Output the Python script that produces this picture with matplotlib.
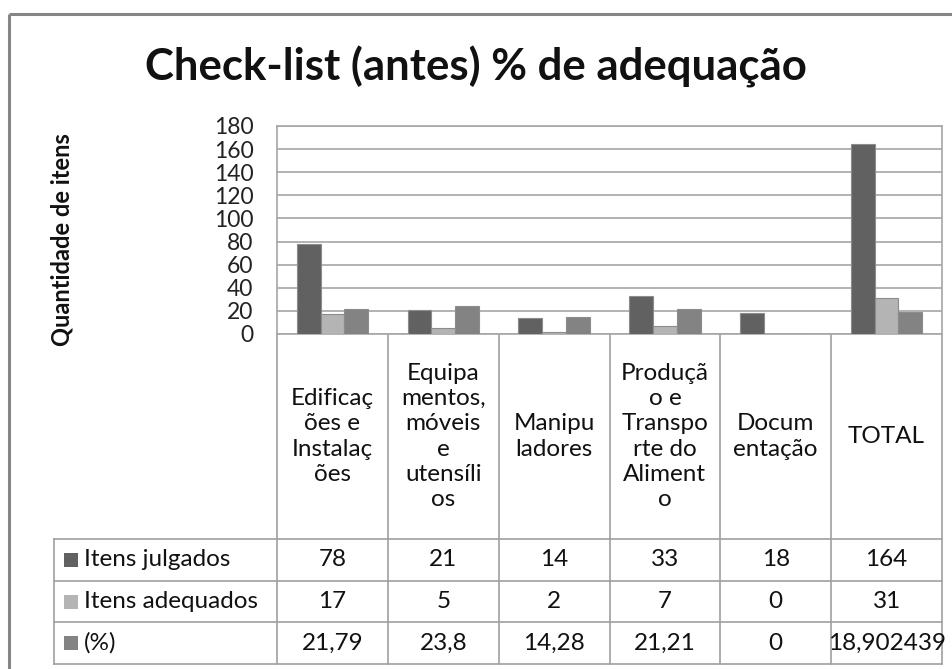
import numpy as np
import matplotlib.pyplot as plt
from matplotlib.patches import Rectangle

plt.rcParams['font.family'] = ['Lato', 'DejaVu Sans']

# data
categories = ["Edificaç\nões e\nInstalaç\nões",
              "Equipa\nmentos,\nmóveis\ne\nutensíli\nos",
              "Manipu\nladores",
              "Produçã\no e\nTranspo\nrte do\nAliment\no",
              "Docum\nentação",
              "TOTAL"]
series_names = ["Itens julgados", "Itens adequados", "(%)"]
itens_julgados = [78, 21, 14, 33, 18, 164]
itens_adequados = [17, 5, 2, 7, 0, 31]
percentual = [21.79, 23.8, 14.28, 21.21, 0, 18.902439]
yticks = [0, 20, 40, 60, 80, 100, 120, 140, 160, 180]

series = [itens_julgados, itens_adequados, percentual]
colors = ['#616161', '#b4b4b4', '#838383']
grid_c = '#a6a6a6'

W, H = 952, 669
fig = plt.figure(figsize=(W / 100, H / 100), dpi=100)

# overlay in pixel coordinates for border + data table
ov = fig.add_axes([0, 0, 1, 1])
ov.set_xlim(0, W)
ov.set_ylim(H, 0)
ov.axis('off')
ov.set_facecolor('none')

# outer chart border
ov.plot([9, 9], [14, H + 5], color='#868686', lw=2.2, solid_capstyle='butt')
ov.plot([9, W + 5], [14, 14], color='#868686', lw=2.2, solid_capstyle='butt')

# plot area
left, right, top, bottom = 277, 942, 126, 334
ax = fig.add_axes([left / W, 1 - bottom / H, (right - left) / W, (bottom - top) / H])
ax.set_facecolor('none')
n = len(categories)
x = np.arange(n)
bw = 0.215
for k, (vals, c) in enumerate(zip(series, colors)):
    ax.bar(x + 0.5 + (k - 1) * bw, vals, width=bw, color=c, edgecolor='#8c8c8c',
           linewidth=0.8, zorder=3)
ax.set_xlim(0, n)
ax.set_ylim(0, 180)
ax.set_yticks(yticks)
ax.set_yticklabels([str(t) for t in yticks], fontsize=16.5, color='#222222')
ax.set_xticks([])
ax.tick_params(axis='y', length=0, pad=17)
ax.grid(axis='y', color=grid_c, lw=1.2, zorder=0)
for s in ax.spines.values():
    s.set_color(grid_c)
    s.set_linewidth(1.2)

# title and y label
ov.text(476, 67, "Check-list (antes) % de adequação", ha='center', va='center',
        fontsize=31.5, fontweight='bold', color='#111111')
ov.text(62, 240, "Quantidade de itens", ha='center', va='center', rotation=90,
        fontsize=17, fontweight='bold', color='#111111')

# data table
col_w = (right - left) / n
col_x = [left + i * col_w for i in range(n + 1)]
rows_y = [334, 539, 580.7, 622.3, 664]
tleft = 54
lc = '#a0a0a0'
for yy in rows_y[1:]:
    ov.plot([tleft, right], [yy, yy], color=lc, lw=1.2)
ov.plot([tleft, tleft], [rows_y[1], rows_y[-1]], color=lc, lw=1.2)
for xx in col_x:
    ov.plot([xx, xx], [rows_y[0], rows_y[-1]], color=lc, lw=1.2)

hdr_mid = (rows_y[0] + rows_y[1]) / 2
for i, cat in enumerate(categories):
    ov.text(col_x[i] + col_w / 2, hdr_mid, cat, ha='center', va='center',
            fontsize=17.5, linespacing=1.25, color='#111111')

for r, (name, vals, c) in enumerate(zip(series_names, series, colors)):
    yc = (rows_y[r + 1] + rows_y[r + 2]) / 2
    ov.add_patch(Rectangle((64, yc - 7), 14, 14, facecolor=c, edgecolor='none'))
    ov.text(84, yc, name, ha='left', va='center', fontsize=17.5, color='#111111')
    for i, v in enumerate(vals):
        ov.text(col_x[i] + col_w / 2, yc, str(v).replace('.', ','), ha='center',
                va='center', fontsize=17.5, color='#111111')

fig.savefig('out.png', dpi=100)
